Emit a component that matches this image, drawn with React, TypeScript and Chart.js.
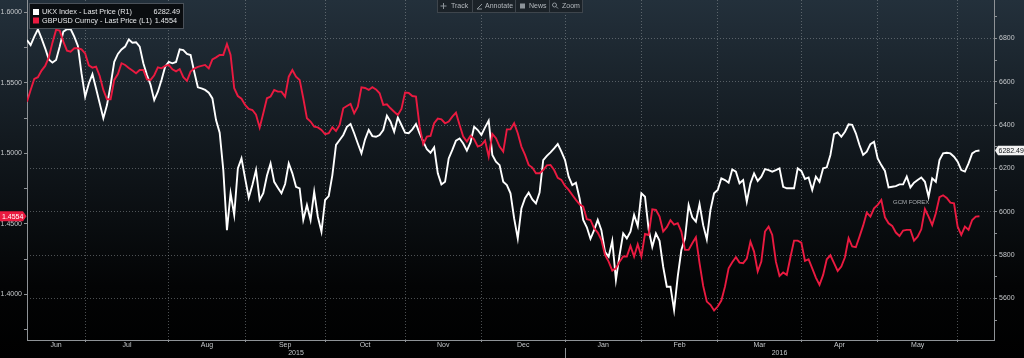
import React, { useEffect, useRef } from 'react';
import { Chart, registerables } from 'chart.js';

Chart.register(...registerables);

// Weekday index 0 = 9 Jun 2015 ... 262 = 9 Jun 2016
const ukx: number[] = [
  6792, 6769, 6808, 6842, 6800, 6754, 6703, 6688, 6700, 6762,
  6831, 6842, 6843, 6808, 6765, 6638, 6531, 6592, 6635, 6569,
  6500, 6431, 6492, 6585, 6692, 6728, 6749, 6762, 6795, 6780,
  6782, 6762, 6685, 6631, 6585, 6515, 6554, 6608, 6669, 6691,
  6685, 6691, 6749, 6746, 6728, 6723, 6646, 6574, 6569, 6562,
  6549, 6523, 6423, 6365, 6192, 5915, 6085, 5985, 6200, 6246,
  6154, 6065, 6123, 6192, 6054, 6085, 6166, 6223, 6138, 6111,
  6085, 6128, 6223, 6177, 6115, 6108, 5962, 6031, 5962, 6092,
  5977, 5908, 6054, 6072, 6169, 6308, 6331, 6354, 6392, 6405,
  6362, 6315, 6269, 6334, 6377, 6349, 6346, 6354, 6377, 6443,
  6415, 6369, 6435, 6400, 6365, 6362, 6380, 6405, 6362, 6323,
  6288, 6272, 6297, 6177, 6126, 6138, 6246, 6285, 6328, 6338,
  6315, 6282, 6320, 6392, 6377, 6354, 6389, 6420, 6262, 6231,
  6215, 6138, 6123, 6085, 5969, 5877, 6015, 6062, 6088, 6057,
  6038, 6088, 6238, 6258, 6274, 6292, 6312, 6277, 6238, 6162,
  6123, 6134, 6062, 5962, 5928, 5875, 5915, 5962, 5915, 5815,
  5792, 5866, 5685, 5800, 5900, 5877, 5908, 5985, 5934, 6085,
  6069, 5918, 5838, 5900, 5866, 5746, 5654, 5654, 5546, 5700,
  5823, 5877, 6031, 5974, 5954, 6035, 5938, 5872, 6008, 6085,
  6100, 6154, 6146, 6134, 6195, 6185, 6131, 6146, 6046, 6131,
  6177, 6142, 6162, 6197, 6192, 6185, 6192, 6200, 6115, 6108,
  6108, 6108, 6200, 6188, 6151, 6158, 6100, 6162, 6138, 6200,
  6205, 6262, 6358, 6366, 6346, 6369, 6403, 6401, 6362, 6308,
  6262, 6277, 6312, 6323, 6246, 6215, 6188, 6112, 6115, 6118,
  6126, 6126, 6162, 6112, 6134, 6146, 6158, 6138, 6069, 6154,
  6138, 6238, 6269, 6272, 6269, 6254, 6231, 6192, 6185, 6223,
  6269, 6280, 6282.49,
];

const gbpusd: number[] = [
  1.5366, 1.5449, 1.5527, 1.5539, 1.5586, 1.5619, 1.5680, 1.5784, 1.5874, 1.5869,
  1.5791, 1.5727, 1.5720, 1.5744, 1.5744, 1.5737, 1.5708, 1.5623, 1.5607, 1.5614,
  1.5548, 1.5449, 1.5383, 1.5383, 1.5520, 1.5562, 1.5638, 1.5626, 1.5605, 1.5586,
  1.5567, 1.5590, 1.5590, 1.5524, 1.5520, 1.5553, 1.5609, 1.5602, 1.5619, 1.5626,
  1.5595, 1.5581, 1.5597, 1.5539, 1.5513, 1.5579, 1.5600, 1.5612, 1.5619, 1.5626,
  1.5602, 1.5666, 1.5680, 1.5697, 1.5697, 1.5774, 1.5697, 1.5461, 1.5406, 1.5387,
  1.5343, 1.5314, 1.5307, 1.5274, 1.5182, 1.5284, 1.5390, 1.5402, 1.5449, 1.5437,
  1.5437, 1.5402, 1.5543, 1.5590, 1.5543, 1.5520, 1.5390, 1.5248, 1.5225, 1.5189,
  1.5184, 1.5166, 1.5135, 1.5142, 1.5184, 1.5158, 1.5201, 1.5319, 1.5335, 1.5350,
  1.5284, 1.5331, 1.5468, 1.5463, 1.5449, 1.5468, 1.5453, 1.5425, 1.5343, 1.5347,
  1.5319, 1.5295, 1.5272, 1.5314, 1.5430, 1.5428, 1.5406, 1.5402, 1.5189, 1.5066,
  1.5118, 1.5123, 1.5213, 1.5246, 1.5241, 1.5213, 1.5225, 1.5260, 1.5288, 1.5201,
  1.5118, 1.5083, 1.5125, 1.5100, 1.5048, 1.5059, 1.5090, 1.4977, 1.5137, 1.5107,
  1.5048, 1.5012, 1.5170, 1.5170, 1.5213, 1.5142, 1.5048, 1.4989, 1.4918, 1.4899,
  1.4859, 1.4859, 1.4882, 1.4915, 1.4918, 1.4882, 1.4826, 1.4812, 1.4769, 1.4741,
  1.4705, 1.4670, 1.4639, 1.4623, 1.4533, 1.4528, 1.4469, 1.4439, 1.4387, 1.4281,
  1.4233, 1.4170, 1.4186, 1.4233, 1.4269, 1.4269, 1.4344, 1.4269, 1.4356, 1.4269,
  1.4429, 1.4422, 1.4604, 1.4599, 1.4552, 1.4446, 1.4477, 1.4526, 1.4495, 1.4505,
  1.4446, 1.4316, 1.4316, 1.4363, 1.4406, 1.4222, 1.4061, 1.3950, 1.3927, 1.3887,
  1.3915, 1.3957, 1.4056, 1.4186, 1.4229, 1.4264, 1.4226, 1.4222, 1.4255, 1.4375,
  1.4304, 1.4163, 1.4233, 1.4446, 1.4481, 1.4422, 1.4233, 1.4132, 1.4156, 1.4139,
  1.4264, 1.4382, 1.4382, 1.4368, 1.4238, 1.4250, 1.4186, 1.4120, 1.4068, 1.4139,
  1.4250, 1.4278, 1.4222, 1.4167, 1.4198, 1.4264, 1.4399, 1.4340, 1.4335, 1.4410,
  1.4488, 1.4580, 1.4552, 1.4611, 1.4635, 1.4670, 1.4547, 1.4505, 1.4486, 1.4439,
  1.4415, 1.4453, 1.4458, 1.4458, 1.4382, 1.4410, 1.4462, 1.4606, 1.4552, 1.4493,
  1.4576, 1.4689, 1.4703, 1.4684, 1.4651, 1.4646, 1.4481, 1.4422, 1.4481, 1.4458,
  1.4528, 1.4552, 1.4554,
];

// first weekday index of each month (Jul 2015 ... Jun 2016)
const monthStarts = [16, 39, 60, 82, 104, 125, 148, 169, 190, 213, 234, 256];
const monthLabels = ['Jun', 'Jul', 'Aug', 'Sep', 'Oct', 'Nov', 'Dec', 'Jan', 'Feb', 'Mar', 'Apr', 'May'];
const yearLabels = ['2015', '2016'];
const yearBreak = 148; // 1 Jan 2016
const xMax = 266;

// axis ticks (labelled) and the unlabelled minor ticks between them
const leftTicks = [1.4, 1.45, 1.5, 1.55, 1.6];
const leftMinor = [1.375, 1.425, 1.475, 1.525, 1.575];
const rightTicks = [5600, 5800, 6000, 6200, 6400, 6600, 6800];
const rightMinor = [5500, 5700, 5900, 6100, 6300, 6500, 6700, 6900];

const ukxName = 'UKX Index - Last Price (R1)';
const gbpName = 'GBPUSD Curncy - Last Price (L1)';
const ukxLast = 6282.49;
const gbpLast = 1.4554;
const toolbarItems = ['Track', 'Annotate', 'News', 'Zoom'];
const watermark = 'GCM FOREX';

const RED = '#ea1a40';
const WHITE = '#ffffff';
const GRID = 'rgba(150,155,160,0.5)';
const AXIS = '#8e9296';
const LABEL = '#c4c7ca';
const FONT = '"Liberation Sans", Arial, sans-serif';
const CLEAR = 'rgba(0,0,0,0)';

export default function App() {
  const ref = useRef<HTMLCanvasElement | null>(null);

  useEffect(() => {
    const canvas = ref.current;
    if (!canvas) return;

    const bounds = [0, ...monthStarts];
    const mids = monthLabels.map((_, k) => (bounds[k] + bounds[k + 1]) / 2);
    const labelAt = new Map<number, string>();
    mids.forEach((m, k) => labelAt.set(m, monthLabels[k]));
    const startSet = new Set(monthStarts);
    const rightMajor = new Set(rightTicks);
    const leftMajorFmt = new Set(leftTicks.map((v) => v.toFixed(4)));

    const zeroPad = (s: any) => {
      s.paddingTop = 0; s.paddingBottom = 0; s.paddingLeft = 0; s.paddingRight = 0;
    };

    const bgPlugin = {
      id: 'bg',
      beforeDraw(chart: any) {
        const { ctx, width, height } = chart;
        const g = ctx.createLinearGradient(0, 0, 0, height);
        g.addColorStop(0, '#23303b');
        g.addColorStop(0.45, '#10161b');
        g.addColorStop(0.8, '#030405');
        g.addColorStop(1, '#000000');
        ctx.save();
        ctx.fillStyle = g;
        ctx.fillRect(0, 0, width, height);
        ctx.restore();
      },
    };

    const overlay = {
      id: 'overlay',
      afterDraw(chart: any) {
        const { ctx } = chart;
        const x = chart.scales.x;
        const yL = chart.scales.yL;
        const yR = chart.scales.yR;
        ctx.save();

        // year labels + separator
        ctx.font = `7px ${FONT}`;
        ctx.fillStyle = LABEL;
        ctx.textAlign = 'center';
        ctx.textBaseline = 'middle';
        ctx.fillText(yearLabels[0], x.getPixelForValue(yearBreak / 2), 353.5);
        ctx.fillText(yearLabels[1], x.getPixelForValue((yearBreak + xMax) / 2), 353.5);
        const sx = Math.round(x.getPixelForValue(yearBreak)) + 0.5;
        ctx.strokeStyle = AXIS;
        ctx.lineWidth = 1;
        ctx.beginPath();
        ctx.moveTo(sx, 348);
        ctx.lineTo(sx, 358);
        ctx.stroke();

        // watermark
        ctx.font = `6px ${FONT}`;
        ctx.fillStyle = '#a9adb1';
        ctx.textAlign = 'left';
        ctx.fillText(watermark, 893, 202);

        // legend box
        ctx.fillStyle = 'rgba(8,10,12,0.9)';
        ctx.fillRect(29.5, 3.5, 154, 25);
        ctx.strokeStyle = '#4a5159';
        ctx.strokeRect(29.5, 3.5, 154, 25);
        ctx.fillStyle = WHITE;
        ctx.fillRect(33, 9, 6, 6);
        ctx.fillStyle = RED;
        ctx.fillRect(33, 17.5, 6, 6);
        ctx.font = `7.3px ${FONT}`;
        ctx.fillStyle = '#e4e6e8';
        ctx.textBaseline = 'middle';
        ctx.fillText(ukxName, 42, 12.3);
        ctx.fillText(gbpName, 42, 20.7);
        ctx.textAlign = 'right';
        ctx.fillText(ukxLast.toFixed(2), 180, 12.3);
        ctx.fillText(gbpLast.toFixed(4), 177, 20.7);
        ctx.textAlign = 'left';

        // toolbar
        ctx.fillStyle = '#1b2228';
        ctx.fillRect(437.5, -1, 145, 13.5);
        ctx.strokeStyle = '#3e454c';
        ctx.strokeRect(437.5, -1, 145, 13.5);
        ctx.beginPath();
        [472.5, 515.5, 549.5].forEach((dx) => { ctx.moveTo(dx, 0); ctx.lineTo(dx, 12); });
        ctx.stroke();
        ctx.font = `7px ${FONT}`;
        ctx.fillStyle = '#b4b9be';
        const tx = [451, 485, 529, 562];
        toolbarItems.forEach((t, k) => ctx.fillText(t, tx[k], 6.2));
        ctx.strokeStyle = '#8d949a';
        ctx.beginPath();
        ctx.moveTo(443.5, 3); ctx.lineTo(443.5, 9);
        ctx.moveTo(440.5, 6); ctx.lineTo(446.5, 6);
        ctx.moveTo(477, 9); ctx.lineTo(482, 4);
        ctx.moveTo(477, 9); ctx.lineTo(482, 9);
        ctx.stroke();
        ctx.fillStyle = '#8d949a';
        ctx.fillRect(520, 3.5, 5, 5);
        ctx.beginPath();
        ctx.arc(554.5, 5, 2, 0, Math.PI * 2);
        ctx.moveTo(556, 6.5); ctx.lineTo(558, 8.5);
        ctx.stroke();

        // left value box
        const ly = yL.getPixelForValue(gbpLast);
        ctx.fillStyle = RED;
        ctx.beginPath();
        ctx.moveTo(0, ly - 5);
        ctx.lineTo(23, ly - 5);
        ctx.lineTo(26.5, ly);
        ctx.lineTo(23, ly + 5);
        ctx.lineTo(0, ly + 5);
        ctx.closePath();
        ctx.fill();
        ctx.fillStyle = '#ffffff';
        ctx.font = `7px ${FONT}`;
        ctx.textAlign = 'left';
        ctx.fillText(gbpLast.toFixed(4), 2, ly + 0.5);

        // right value box
        const ry = yR.getPixelForValue(ukxLast);
        ctx.fillStyle = '#f2f2f2';
        ctx.beginPath();
        ctx.moveTo(995, ry);
        ctx.lineTo(998, ry - 4.8);
        ctx.lineTo(1024, ry - 4.8);
        ctx.lineTo(1024, ry + 4.8);
        ctx.lineTo(998, ry + 4.8);
        ctx.closePath();
        ctx.fill();
        ctx.fillStyle = '#101418';
        ctx.fillText(ukxLast.toFixed(2), 998.5, ry + 0.5);

        ctx.restore();
      },
    };

    const chart = new Chart(canvas, {
      type: 'line',
      data: {
        datasets: [
          {
            label: gbpName,
            data: gbpusd.map((y, i) => ({ x: i, y })),
            yAxisID: 'yL',
            borderColor: RED,
            borderWidth: 1.9,
            pointRadius: 0,
            tension: 0,
            fill: false,
          },
          {
            label: ukxName,
            data: ukx.map((y, i) => ({ x: i, y })),
            yAxisID: 'yR',
            borderColor: WHITE,
            borderWidth: 1.9,
            pointRadius: 0,
            tension: 0,
            fill: false,
          },
        ],
      },
      options: {
        responsive: false,
        devicePixelRatio: 1,
        animation: false,
        events: [],
        layout: { padding: 0 },
        plugins: { legend: { display: false }, tooltip: { enabled: false } },
        scales: {
          x: {
            type: 'linear',
            position: 'bottom',
            min: 0,
            max: xMax,
            bounds: 'data',
            afterBuildTicks: (s: any) => {
              const vals = [...monthStarts, ...mids].sort((a, b) => a - b);
              s.ticks = vals.map((v) => ({ value: v }));
            },
            afterFit: (s: any) => { s.height = 18; zeroPad(s); },
            ticks: {
              autoSkip: false,
              maxRotation: 0,
              minRotation: 0,
              padding: -1,
              color: LABEL,
              font: { family: FONT, size: 7 },
              callback: (v: any) => labelAt.get(v) ?? '',
            },
            grid: {
              drawOnChartArea: true,
              drawTicks: true,
              tickLength: 2,
              color: (c: any) => (c.tick && startSet.has(c.tick.value) ? GRID : CLEAR),
              tickColor: (c: any) => (c.tick && startSet.has(c.tick.value) ? AXIS : CLEAR),
              lineWidth: 1,
            },
            border: { display: true, color: AXIS, width: 1, dash: [1, 2] },
          },
          yL: {
            type: 'linear',
            position: 'left',
            min: 1.3678,
            max: 1.6086,
            bounds: 'data',
            afterBuildTicks: (s: any) => {
              s.ticks = [...leftTicks, ...leftMinor].sort((a, b) => a - b).map((v) => ({ value: v }));
            },
            afterFit: (s: any) => { s.width = 27; zeroPad(s); },
            ticks: {
              autoSkip: false,
              padding: 2,
              color: LABEL,
              font: { family: FONT, size: 7 },
              callback: (v: any) => {
                const f = Number(v).toFixed(4);
                return leftMajorFmt.has(f) ? f : '';
              },
            },
            grid: { drawOnChartArea: false, drawTicks: true, tickLength: 3, tickColor: AXIS },
            border: { display: true, color: AXIS, width: 1 },
          },
          yR: {
            type: 'linear',
            position: 'right',
            min: 5408,
            max: 6977,
            bounds: 'data',
            afterBuildTicks: (s: any) => {
              s.ticks = [...rightTicks, ...rightMinor].sort((a, b) => a - b).map((v) => ({ value: v }));
            },
            afterFit: (s: any) => { s.width = 30; zeroPad(s); },
            ticks: {
              autoSkip: false,
              padding: 2,
              color: LABEL,
              font: { family: FONT, size: 7 },
              callback: (v: any) => (rightMajor.has(Number(v)) ? String(v) : ''),
            },
            grid: {
              drawOnChartArea: true,
              drawTicks: true,
              tickLength: 3,
              tickColor: AXIS,
              color: (c: any) => (c.tick && rightMajor.has(c.tick.value) ? GRID : CLEAR),
              lineWidth: 1,
            },
            border: { display: true, color: AXIS, width: 1, dash: [1, 2] },
          },
        },
      } as any,
      plugins: [bgPlugin, overlay],
    });

    return () => chart.destroy();
  }, []);

  return (
    <div style={{ position: 'absolute', left: 0, top: 0, width: 1024, height: 358, background: '#000' }}>
      <canvas ref={ref} width={1024} height={358} style={{ display: 'block', width: 1024, height: 358 }} />
    </div>
  );
}
